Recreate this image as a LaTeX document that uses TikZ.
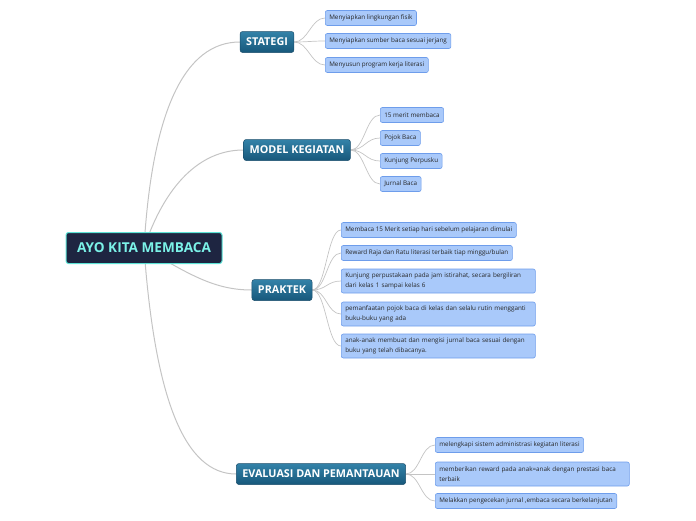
\documentclass[tikz,border=0pt]{standalone}
\usepackage{fontspec}
\setmainfont{Open Sans}
\usetikzlibrary{positioning,backgrounds}
\definecolor{hubfill}{HTML}{1E2541}
\definecolor{hubline}{HTML}{5CE3D6}
\definecolor{hubtext}{HTML}{7BF2E8}
\definecolor{toptop}{HTML}{3382A8}
\definecolor{topbot}{HTML}{17587B}
\definecolor{topline}{HTML}{1A4E6C}
\definecolor{leaffill}{HTML}{A9C9FA}
\definecolor{leafline}{HTML}{6E9DEB}
\definecolor{wirec}{HTML}{C4C4C4}
\tikzset{
  hub/.style    = {draw=hubline, fill=hubfill, line width=1pt, rounded corners=2.5pt,
                   minimum width=156, minimum height=31, inner sep=2pt,
                   text=hubtext, font=\fontsize{13.6}{15}\selectfont\bfseries},
  topic/.style  = {draw=topline, top color=toptop, bottom color=topbot, line width=0.5pt,
                   rounded corners=2.5pt, minimum height=21, inner xsep=6pt, inner ysep=2pt,
                   text=white, font=\fontsize{10.8}{12}\selectfont\bfseries},
  leaf/.style   = {draw=leafline, fill=leaffill, line width=0.6pt, rounded corners=2pt,
                   anchor=west, minimum height=15, inner xsep=4pt, inner ysep=2pt,
                   text=black!85, font=\fontsize{6.3}{9.4}\selectfont, align=left},
  wleaf/.style  = {leaf, text width=186, minimum height=24},
  trunk/.style  = {draw=wirec, line width=1pt},
  twig/.style   = {draw=wirec, line width=0.7pt},
}
\begin{document}
\begin{tikzpicture}[x=1pt,y=-1pt]
  \useasboundingbox (0,0) rectangle (696,520);
  \node[hub] (hub) at (144,248) {AYO KITA MEMBACA};
  \node[topic] (strat) at (267,42) {STATEGI};
  \node[topic] (model) at (297,150) {MODEL KEGIATAN};
  \node[topic] (prak) at (282,290) {PRAKTEK};
  \node[topic] (eval) at (321,474) {EVALUASI DAN PEMANTAUAN};
  \node[leaf] (s1) at (325,18) {Menyiapkan lingkungan fisik};
  \node[leaf] (s2) at (325,41) {Menyiapkan sumber baca sesuai jerjang};
  \node[leaf] (s3) at (325,65) {Menyusun program kerja literasi};
  \node[leaf] (m1) at (380,115) {15 merit membaca};
  \node[leaf] (m2) at (380,138) {Pojok Baca};
  \node[leaf] (m3) at (380,161) {Kunjung Perpusku};
  \node[leaf] (m4) at (380,184) {Jurnal Baca};
  \node[leaf] (p1) at (341,230) {Membaca 15 Merit setiap hari sebelum pelajaran dimulai};
  \node[leaf] (p2) at (341,253) {Reward Raja dan Ratu literasi terbaik tiap minggu/bulan};
  \node[wleaf] (p3) at (341,281) {Kunjung perpustakaan pada jam istirahat, secara bergiliran\\dari kelas 1 sampai kelas 6};
  \node[wleaf] (p4) at (341,314) {pemanfaatan pojok baca di kelas dan selalu rutin mengganti\\buku-buku yang ada};
  \node[wleaf] (p5) at (341,346) {anak-anak membuat dan mengisi jurnal baca sesuai dengan\\buku yang telah dibacanya.};
  \node[leaf] (e1) at (435,445) {melengkapi sistem administrasi kegiatan literasi};
  \node[wleaf] (e2) at (435,474) {memberikan reward pada anak=anak dengan prestasi baca\\terbaik};
  \node[leaf] (e3) at (435,501) {Melakkan pengecekan jurnal ,embaca secara berkelanjutan};
  \begin{scope}[on background layer]
    \draw[trunk] (hub.center) .. controls (152,110) and (185,42) .. (strat.west);
    \draw[trunk] (hub.center) .. controls (165,185) and (200,150) .. (model.west);
    \draw[trunk] (hub.center) .. controls (190,275) and (215,290) .. (prak.west);
    \draw[trunk] (hub.center) .. controls (155,400) and (185,474) .. (eval.west);
    \foreach \t in {s1,s2,s3}
      \draw[twig] (strat.east) .. controls +(14,0) and +(-14,0) .. (\t.west);
    \foreach \t in {m1,m2,m3,m4}
      \draw[twig] (model.east) .. controls +(14,0) and +(-14,0) .. (\t.west);
    \foreach \t in {p1,p2,p3,p4,p5}
      \draw[twig] (prak.east) .. controls +(14,0) and +(-14,0) .. (\t.west);
    \foreach \t in {e1,e2,e3}
      \draw[twig] (eval.east) .. controls +(14,0) and +(-14,0) .. (\t.west);
  \end{scope}
\end{tikzpicture}
\end{document}
